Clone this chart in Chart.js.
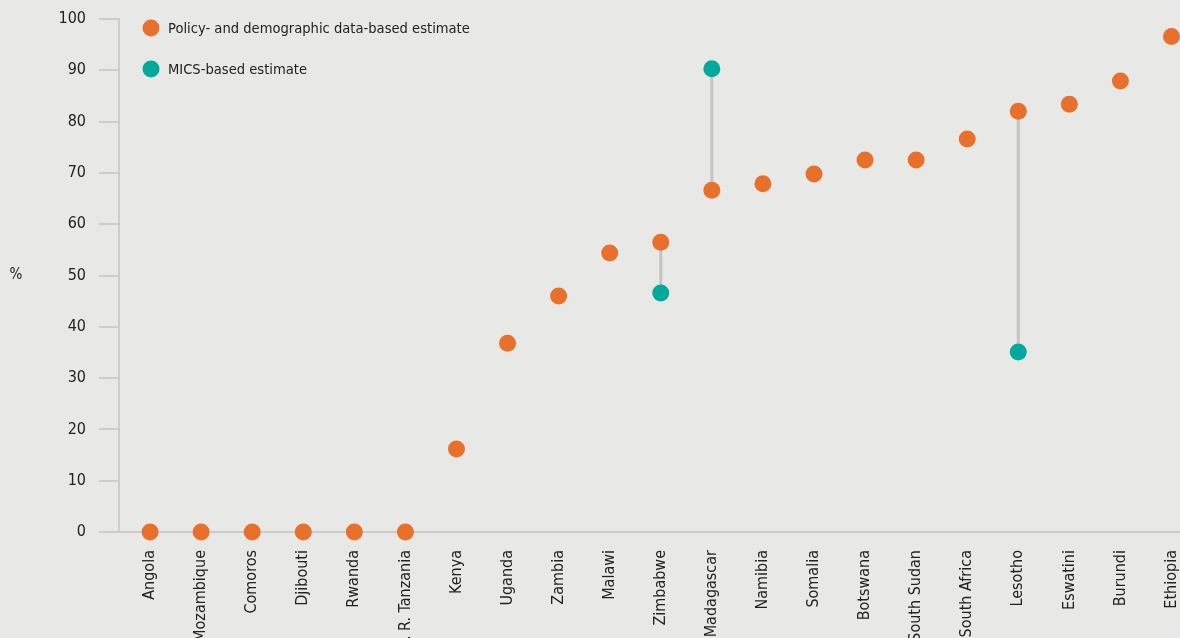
<!DOCTYPE html>
<html><head><meta charset="utf-8">
<script src="https://cdn.jsdelivr.net/npm/chart.js@4.4.0/dist/chart.umd.min.js"></script>
<style>
html,body{margin:0;padding:0;background:#e8e9e6;overflow:hidden}
#wrap{position:relative;width:1190px;height:638px}
</style></head><body>
<div id="wrap"><canvas id="c"></canvas></div>
<script>
const countries = ['Angola','Mozambique','Comoros','Djibouti','Rwanda','U. R. Tanzania','Kenya','Uganda','Zambia','Malawi','Zimbabwe','Madagascar','Namibia','Somalia','Botswana','South Sudan','South Africa','Lesotho','Eswatini','Burundi','Ethiopia'];
const policyEstimate = [0,0,0,0,0,0,16.2,36.8,46.0,54.4,56.5,66.6,67.9,69.8,72.5,72.5,76.6,82.0,83.4,87.9,96.6];
const micsEstimate = [null,null,null,null,null,null,null,null,null,null,46.6,90.3,null,null,null,null,null,35.1,null,null,null];
const yTicks = [0,10,20,30,40,50,60,70,80,90,100];
const seriesLabels = ['Policy- and demographic data-based estimate','MICS-based estimate'];
const yUnit = '%';

const ORANGE = '#e8702a', TEAL = '#00a99c', GREY = '#cbcccb', TEXT = '#222222';
const FONT = "'Liberation Sans Narrow', 'DejaVu Sans Condensed', 'Roboto', sans-serif";
Chart.defaults.font.family = FONT;
Chart.defaults.font.size = 16;
Chart.defaults.color = TEXT;

const connectors = [];
micsEstimate.forEach((m, i) => {
  if (m !== null) {
    connectors.push({
      data: [{x: i, y: policyEstimate[i]}, {x: i, y: m}],
      showLine: true, borderColor: '#c4c4c4', borderWidth: 3,
      pointRadius: 0, pointHoverRadius: 0, order: 5, clip: false
    });
  }
});

const extras = {
  id: 'extras',
  afterDraw(chart) {
    const ctx = chart.ctx;
    ctx.save();
    ctx.font = '15px ' + FONT;
    ctx.fillStyle = TEXT;
    ctx.textBaseline = 'middle';
    ctx.textAlign = 'center';
    const ya = chart.scales.y;
    ctx.fillText(yUnit, 16, (ya.top + ya.bottom) / 2);
    const items = [[seriesLabels[0], ORANGE, 28], [seriesLabels[1], TEAL, 69]];
    ctx.textAlign = 'left';
    ctx.font = '14.6px ' + FONT;
    items.forEach(([t, c, y]) => {
      ctx.fillStyle = c;
      ctx.beginPath(); ctx.arc(151, y, 8.5, 0, Math.PI * 2); ctx.fill();
      ctx.fillStyle = TEXT;
      ctx.fillText(t, 168, y + 1);
    });
    ctx.restore();
  }
};

new Chart(document.getElementById('c'), {
  type: 'scatter',
  data: {
    datasets: [
      { label: seriesLabels[1], data: micsEstimate.map((v, i) => v === null ? null : {x: i, y: v}).filter(Boolean),
        backgroundColor: TEAL, borderWidth: 0, pointRadius: 8.5, pointHoverRadius: 8.5, order: 0, clip: false },
      { label: seriesLabels[0], data: policyEstimate.map((v, i) => ({x: i, y: v})),
        backgroundColor: ORANGE, borderWidth: 0, pointRadius: 8.5, pointHoverRadius: 8.5, order: 1, clip: false },
      ...connectors
    ]
  },
  options: {
    responsive: true, maintainAspectRatio: false, animation: false,
    events: [],
    layout: { padding: { top: 19, left: 0, right: 0, bottom: 0 } },
    plugins: { legend: { display: false }, tooltip: { enabled: false } },
    scales: {
      x: {
        type: 'linear', min: -0.608, max: 20.196,
        afterBuildTicks: s => { s.ticks = countries.map((c, i) => ({ value: i })); },
        afterFit: s => { s.height = 106; s.paddingLeft = 0; s.paddingRight = 0; },
        grid: { display: false, drawTicks: false },
        border: { display: false },
        ticks: { autoSkip: false, maxRotation: 90, minRotation: 90, padding: 18,
                 callback: v => countries[v] }
      },
      y: {
        min: 0, max: 100,
        afterBuildTicks: s => { s.ticks = yTicks.map(v => ({ value: v })); },
        afterFit: s => { s.width = 119; s.paddingTop = 0; s.paddingBottom = 0; },
        grid: { color: c => (c.tick && c.tick.value === 0) ? GREY : 'rgba(0,0,0,0)',
                tickColor: GREY, tickLength: 20, lineWidth: 2 },
        border: { display: true, color: GREY, width: 2 },
        ticks: { padding: 13 }
      }
    }
  },
  plugins: [extras]
});
</script>
</body></html>
